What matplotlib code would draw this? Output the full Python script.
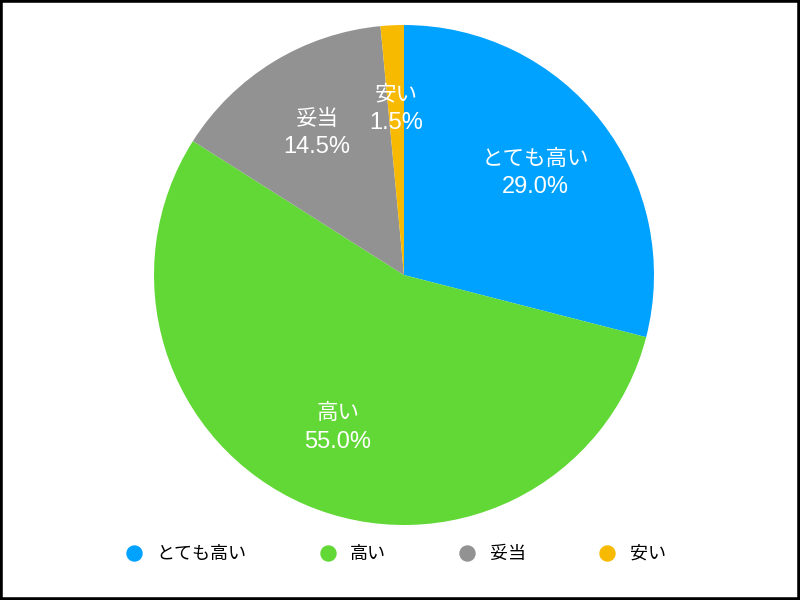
import matplotlib
matplotlib.use("Agg")
import matplotlib.pyplot as plt
from matplotlib.lines import Line2D
import numpy as np

plt.rcParams['font.family'] = ['Liberation Sans', 'Noto Sans CJK JP', 'DejaVu Sans']

# --- data ---
labels = ['とても高い', '高い', '妥当', '安い']
values = [29.0, 55.0, 14.5, 1.5]
colors = ['#00A2FF', '#61D836', '#929292', '#F8BA00']

fig = plt.figure(figsize=(8, 6), dpi=100)

# pie centred at about (404, 275) px with radius 250 px
ax = fig.add_axes([0.505 - 0.3125, 0.5417 - 0.4167, 0.625, 0.8333])
wedges, texts = ax.pie(values, colors=colors, startangle=90, counterclock=False,
                       radius=1.0, labels=None)
ax.set_xlim(-1, 1)
ax.set_ylim(-1, 1)
ax.set_aspect('equal')

# slice labels: name above, percent below, white
start = 90.0
for lab, v in zip(labels, values):
    mid = start - v / 100 * 360 / 2
    start -= v / 100 * 360
    r = 0.665
    x = r * np.cos(np.radians(mid))
    y = r * np.sin(np.radians(mid))
    ax.annotate(lab, (x, y), xytext=(0, 14), textcoords='offset pixels',
                ha='center', va='center', color='white', fontsize=15.5)
    ax.annotate(f'{v:.1f}%', (x, y), xytext=(0, -14), textcoords='offset pixels',
                ha='center', va='center', color='white', fontsize=17)

handles = [Line2D([], [], marker='o', linestyle='none', markersize=10.8,
                  markerfacecolor=c, markeredgecolor=c) for c in colors]
fig.legend(handles, labels, loc='center', bbox_to_anchor=(0.494, 0.076), ncol=4,
           frameon=False, fontsize=13, columnspacing=4.0, handletextpad=0.75,
           handlelength=1.0)

# black frame around the figure
fig.patches.append(plt.Rectangle((0, 0), 1, 1, transform=fig.transFigure,
                                 fill=False, edgecolor='black', linewidth=4))

fig.savefig('out.png', dpi=100)
